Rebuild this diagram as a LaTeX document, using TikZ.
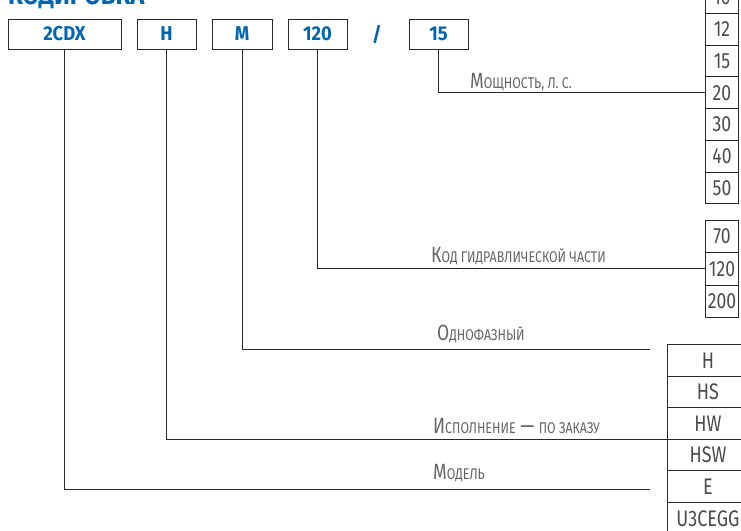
\documentclass[tikz,border=0pt]{standalone}
\usepackage{fontspec}
\setmainfont{Fira Sans}
\newfontfamily\condfont[FakeStretch=0.8]{Fira Sans}
\newfontfamily\boldcond[FakeStretch=0.92]{Fira Sans}
\newcommand\fakesc[1]{{\fontsize{15.5}{15.5}\selectfont\MakeUppercase{#1}}}
\definecolor{codeblue}{RGB}{0,102,178}
\definecolor{linec}{RGB}{40,40,40}
\definecolor{lblc}{RGB}{100,100,100}
\definecolor{numc}{RGB}{75,75,75}
\tikzset{
  codebox/.style={draw=linec, line width=1pt, minimum height=30pt, inner sep=0pt,
    font=\boldcond\bfseries\fontsize{20}{20}\selectfont, text=codeblue},
  cell/.style={draw=linec, line width=1pt, minimum width=33pt, inner sep=0pt,
    anchor=north west, font=\condfont\fontsize{22}{22}\selectfont, text=numc},
  mcell/.style={draw=linec, line width=1pt, minimum width=82pt, inner sep=0pt,
    anchor=north west, font=\condfont\fontsize{22.5}{22.5}\selectfont, text=numc},
  lbl/.style={anchor=base west, inner sep=0pt, font=\condfont\fontsize{22}{22}\selectfont, text=lblc},
  conn/.style={draw=linec, line width=1pt},
}
\begin{document}
\begin{tikzpicture}[x=1pt, y=-1pt]
\useasboundingbox (0,0) rectangle (741,530);
% title (cut off at the top)
\node[anchor=base west, inner sep=0pt, text=codeblue,
  font=\boldcond\bfseries\fontsize{26}{26}\selectfont] (title) at (8,4.5) {КОДИРОВКА};
% code boxes
\node[codebox, minimum width=113pt] (bmodel) at (64.5,34) {2CDX};
\node[codebox, minimum width=59pt] (bexec) at (166.5,34) {H};
\node[codebox, minimum width=60pt] (bphase) at (242,34) {M};
\node[codebox, minimum width=59pt] (bhyd) at (317.5,34) {120};
\node[inner sep=0pt, text=codeblue, font=\boldcond\bfseries\fontsize{20}{20}\selectfont] (slash) at (377,34) {/};
\node[codebox, minimum width=59pt] (bpow) at (438.5,34) {15};
% power column
\node[cell, minimum height=31.7pt] (p10) at (705,-18.7) {10};
\node[cell, minimum height=31.7pt] (p12) at (705,13) {12};
\node[cell, minimum height=31.7pt] (p15) at (705,44.7) {15};
\node[cell, minimum height=31.7pt] (p20) at (705,76.4) {20};
\node[cell, minimum height=31.7pt] (p30) at (705,108.1) {30};
\node[cell, minimum height=31.7pt] (p40) at (705,139.8) {40};
\node[cell, minimum height=31.7pt] (p50) at (705,171.5) {50};
% hydraulic column
\node[cell, minimum height=32.3pt] (h70) at (705,220) {70};
\node[cell, minimum height=32.3pt] (h120) at (705,252.3) {120};
\node[cell, minimum height=32.3pt] (h200) at (705,284.6) {200};
% model column
\node[mcell, minimum height=31.6pt] (mH) at (666.5,344) {H};
\node[mcell, minimum height=31.6pt] (mHS) at (666.5,375.6) {HS};
\node[mcell, minimum height=31.6pt] (mHW) at (666.5,407.2) {HW};
\node[mcell, minimum height=31.6pt] (mHSW) at (666.5,438.8) {HSW};
\node[mcell, minimum height=31.6pt] (mE) at (666.5,470.4) {E};
\node[mcell, minimum height=31.6pt] (mU) at (666.5,502) {U3CEGG};
% free ends
\coordinate (ephase) at (650,349);
\coordinate (emodel) at (650,489);
% connectors
\draw[conn] (bpow.south) |- (p20.west);
\draw[conn] (bhyd.south) |- (h120.west);
\draw[conn] (bphase.south) |- (ephase);
\draw[conn] (bexec.south) |- (mHW.south west);
\draw[conn] (bmodel.south) |- (emodel);
% labels
\node[lbl] (lpow) at (470,88) {М\fakesc{ощность, л. с.}};
\node[lbl] (lhyd) at (431,262) {К\fakesc{од гидравлической части}};
\node[lbl] (lphase) at (437,340) {О\fakesc{днофазный}};
\node[lbl] (lexec) at (433,433) {И\fakesc{сполнение} — \fakesc{по заказу}};
\node[lbl] (lmodel) at (433,479) {М\fakesc{одель}};
\end{tikzpicture}
\end{document}
